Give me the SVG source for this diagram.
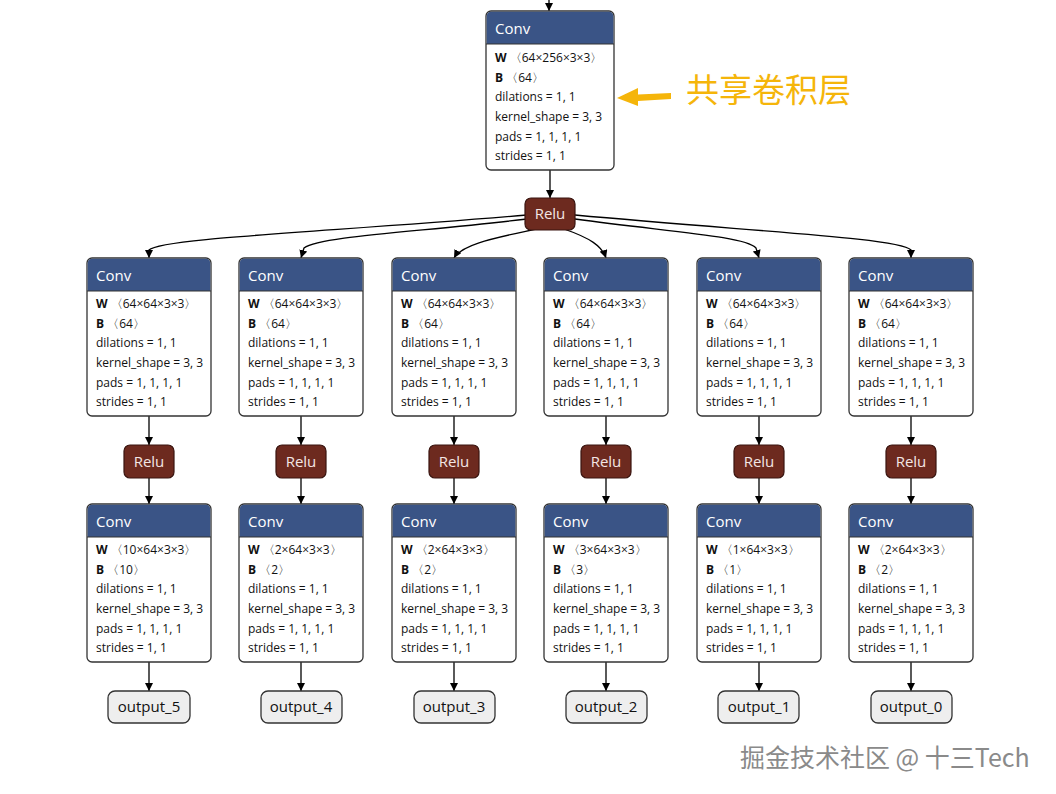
<svg xmlns="http://www.w3.org/2000/svg" width="1056" height="794" viewBox="0 0 1056 794">
<defs>
<marker id="ah" viewBox="0 0 10 10" refX="10" refY="5" markerWidth="8" markerHeight="8" markerUnits="userSpaceOnUse" orient="auto">
<path d="M0,0 L10,5 L0,10 z" fill="#000"/>
</marker>
<style>
.box{fill:#fff;stroke:#333;stroke-width:1.3}
.hdr{fill:#3a5486}
.relu{fill:#6d2a1f;stroke:#3a1510;stroke-width:1.2}
.out{fill:#eeeeee;stroke:#333;stroke-width:1.3}
.ht{font-family:"Open Sans","Noto Sans",sans-serif;font-size:15px;fill:#fff}
.bt{font-family:"Open Sans","Noto Sans",sans-serif;font-size:12px;fill:#111}
.b{font-weight:bold}
.rt{font-family:"Open Sans","Noto Sans",sans-serif;font-size:15px;fill:#f3e6e4;text-anchor:middle}
.ot{font-family:"Open Sans","Noto Sans",sans-serif;font-size:15px;fill:#111;text-anchor:middle}
.e{fill:none;stroke:#000;stroke-width:1.3;marker-end:url(#ah)}
</style>
</defs>
<rect width="1056" height="794" fill="#fff"/>

<g id="edges">
<path class="e" d="M549,0 L549,11"/>
<path class="e" d="M550,170 L550,198"/>
<path class="e" d="M527,215 C330,232 160,238 149,250 L149,258"/>
<path class="e" d="M527,219 C420,232 320,236 304,248 L301,258"/>
<path class="e" d="M536,229 C495,238 462,244 454,258"/>
<path class="e" d="M564,229 C590,238 602,246 606,258"/>
<path class="e" d="M575,219 C670,232 745,236 756,248 L759,258"/>
<path class="e" d="M575,215 C760,232 900,238 911,250 L911,258"/>
<path class="e" d="M149,416 L149,445"/><path class="e" d="M149,478 L149,504"/><path class="e" d="M149,662 L149,691"/>
<path class="e" d="M301,416 L301,445"/><path class="e" d="M301,478 L301,504"/><path class="e" d="M301,662 L301,691"/>
<path class="e" d="M454,416 L454,445"/><path class="e" d="M454,478 L454,504"/><path class="e" d="M454,662 L454,691"/>
<path class="e" d="M606,416 L606,445"/><path class="e" d="M606,478 L606,504"/><path class="e" d="M606,662 L606,691"/>
<path class="e" d="M759,416 L759,445"/><path class="e" d="M759,478 L759,504"/><path class="e" d="M759,662 L759,691"/>
<path class="e" d="M911,416 L911,445"/><path class="e" d="M911,478 L911,504"/><path class="e" d="M911,662 L911,691"/>
</g>

<g id="conv_shared">
<rect class="box" x="486" y="11" width="128" height="159" rx="5"/>
<path class="hdr" d="M491,11.7 H609 A4.3,4.3 0 0 1 613.3,16 V44 H486.7 V16 A4.3,4.3 0 0 1 491,11.7 z"/>
<line x1="486" y1="44" x2="614" y2="44" stroke="#333" stroke-width="1"/>
<text class="ht" x="495" y="34">Conv</text>
<text class="bt" x="495" y="62"><tspan class="b">W</tspan> 〈64×256×3×3〉</text>
<text class="bt" x="495" y="82"><tspan class="b">B</tspan> 〈64〉</text>
<text class="bt" x="495" y="101">dilations = 1, 1</text>
<text class="bt" x="495" y="121">kernel_shape = 3, 3</text>
<text class="bt" x="495" y="141">pads = 1, 1, 1, 1</text>
<text class="bt" x="495" y="160">strides = 1, 1</text>
</g>

<g id="relu_shared">
<rect class="relu" x="525" y="198" width="50" height="32" rx="6"/>
<text class="rt" x="550" y="219">Relu</text>
</g>

<g id="annotation">
<path d="M671,93 L638,94.5 L638,88 L617,98 L638,106 L638,101 L671,99 z" fill="#f5b50a"/>
<text x="686" y="102" font-family="'Noto Sans CJK SC',sans-serif" font-size="33" fill="#f5b50a">共享卷积层</text>
</g>

<g id="conv_a_5">
<rect class="box" x="87" y="258" width="124" height="158" rx="5"/>
<path class="hdr" d="M92,258.7 H206 A4.3,4.3 0 0 1 210.3,263 V291 H87.7 V263 A4.3,4.3 0 0 1 92,258.7 z"/>
<line x1="87" y1="291" x2="211" y2="291" stroke="#333" stroke-width="1"/>
<text class="ht" x="96" y="281">Conv</text>
<text class="bt" x="96" y="308"><tspan class="b">W</tspan> 〈64×64×3×3〉</text>
<text class="bt" x="96" y="328"><tspan class="b">B</tspan> 〈64〉</text>
<text class="bt" x="96" y="347">dilations = 1, 1</text>
<text class="bt" x="96" y="367">kernel_shape = 3, 3</text>
<text class="bt" x="96" y="387">pads = 1, 1, 1, 1</text>
<text class="bt" x="96" y="406">strides = 1, 1</text>
</g>
<g id="conv_a_4">
<rect class="box" x="239" y="258" width="124" height="158" rx="5"/>
<path class="hdr" d="M244,258.7 H358 A4.3,4.3 0 0 1 362.3,263 V291 H239.7 V263 A4.3,4.3 0 0 1 244,258.7 z"/>
<line x1="239" y1="291" x2="363" y2="291" stroke="#333" stroke-width="1"/>
<text class="ht" x="248" y="281">Conv</text>
<text class="bt" x="248" y="308"><tspan class="b">W</tspan> 〈64×64×3×3〉</text>
<text class="bt" x="248" y="328"><tspan class="b">B</tspan> 〈64〉</text>
<text class="bt" x="248" y="347">dilations = 1, 1</text>
<text class="bt" x="248" y="367">kernel_shape = 3, 3</text>
<text class="bt" x="248" y="387">pads = 1, 1, 1, 1</text>
<text class="bt" x="248" y="406">strides = 1, 1</text>
</g>
<g id="conv_a_3">
<rect class="box" x="392" y="258" width="124" height="158" rx="5"/>
<path class="hdr" d="M397,258.7 H511 A4.3,4.3 0 0 1 515.3,263 V291 H392.7 V263 A4.3,4.3 0 0 1 397,258.7 z"/>
<line x1="392" y1="291" x2="516" y2="291" stroke="#333" stroke-width="1"/>
<text class="ht" x="401" y="281">Conv</text>
<text class="bt" x="401" y="308"><tspan class="b">W</tspan> 〈64×64×3×3〉</text>
<text class="bt" x="401" y="328"><tspan class="b">B</tspan> 〈64〉</text>
<text class="bt" x="401" y="347">dilations = 1, 1</text>
<text class="bt" x="401" y="367">kernel_shape = 3, 3</text>
<text class="bt" x="401" y="387">pads = 1, 1, 1, 1</text>
<text class="bt" x="401" y="406">strides = 1, 1</text>
</g>
<g id="conv_a_2">
<rect class="box" x="544" y="258" width="124" height="158" rx="5"/>
<path class="hdr" d="M549,258.7 H663 A4.3,4.3 0 0 1 667.3,263 V291 H544.7 V263 A4.3,4.3 0 0 1 549,258.7 z"/>
<line x1="544" y1="291" x2="668" y2="291" stroke="#333" stroke-width="1"/>
<text class="ht" x="553" y="281">Conv</text>
<text class="bt" x="553" y="308"><tspan class="b">W</tspan> 〈64×64×3×3〉</text>
<text class="bt" x="553" y="328"><tspan class="b">B</tspan> 〈64〉</text>
<text class="bt" x="553" y="347">dilations = 1, 1</text>
<text class="bt" x="553" y="367">kernel_shape = 3, 3</text>
<text class="bt" x="553" y="387">pads = 1, 1, 1, 1</text>
<text class="bt" x="553" y="406">strides = 1, 1</text>
</g>
<g id="conv_a_1">
<rect class="box" x="697" y="258" width="124" height="158" rx="5"/>
<path class="hdr" d="M702,258.7 H816 A4.3,4.3 0 0 1 820.3,263 V291 H697.7 V263 A4.3,4.3 0 0 1 702,258.7 z"/>
<line x1="697" y1="291" x2="821" y2="291" stroke="#333" stroke-width="1"/>
<text class="ht" x="706" y="281">Conv</text>
<text class="bt" x="706" y="308"><tspan class="b">W</tspan> 〈64×64×3×3〉</text>
<text class="bt" x="706" y="328"><tspan class="b">B</tspan> 〈64〉</text>
<text class="bt" x="706" y="347">dilations = 1, 1</text>
<text class="bt" x="706" y="367">kernel_shape = 3, 3</text>
<text class="bt" x="706" y="387">pads = 1, 1, 1, 1</text>
<text class="bt" x="706" y="406">strides = 1, 1</text>
</g>
<g id="conv_a_0">
<rect class="box" x="849" y="258" width="124" height="158" rx="5"/>
<path class="hdr" d="M854,258.7 H968 A4.3,4.3 0 0 1 972.3,263 V291 H849.7 V263 A4.3,4.3 0 0 1 854,258.7 z"/>
<line x1="849" y1="291" x2="973" y2="291" stroke="#333" stroke-width="1"/>
<text class="ht" x="858" y="281">Conv</text>
<text class="bt" x="858" y="308"><tspan class="b">W</tspan> 〈64×64×3×3〉</text>
<text class="bt" x="858" y="328"><tspan class="b">B</tspan> 〈64〉</text>
<text class="bt" x="858" y="347">dilations = 1, 1</text>
<text class="bt" x="858" y="367">kernel_shape = 3, 3</text>
<text class="bt" x="858" y="387">pads = 1, 1, 1, 1</text>
<text class="bt" x="858" y="406">strides = 1, 1</text>
</g>

<g id="relu_5"><rect class="relu" x="124" y="445" width="50" height="33" rx="6"/><text class="rt" x="149" y="467">Relu</text></g>
<g id="relu_4"><rect class="relu" x="276" y="445" width="50" height="33" rx="6"/><text class="rt" x="301" y="467">Relu</text></g>
<g id="relu_3"><rect class="relu" x="429" y="445" width="50" height="33" rx="6"/><text class="rt" x="454" y="467">Relu</text></g>
<g id="relu_2"><rect class="relu" x="581" y="445" width="50" height="33" rx="6"/><text class="rt" x="606" y="467">Relu</text></g>
<g id="relu_1"><rect class="relu" x="734" y="445" width="50" height="33" rx="6"/><text class="rt" x="759" y="467">Relu</text></g>
<g id="relu_0"><rect class="relu" x="886" y="445" width="50" height="33" rx="6"/><text class="rt" x="911" y="467">Relu</text></g>

<g id="conv_b_5">
<rect class="box" x="87" y="504" width="124" height="158" rx="5"/>
<path class="hdr" d="M92,504.7 H206 A4.3,4.3 0 0 1 210.3,509 V537 H87.7 V509 A4.3,4.3 0 0 1 92,504.7 z"/>
<line x1="87" y1="537" x2="211" y2="537" stroke="#333" stroke-width="1"/>
<text class="ht" x="96" y="527">Conv</text>
<text class="bt" x="96" y="554"><tspan class="b">W</tspan> 〈10×64×3×3〉</text>
<text class="bt" x="96" y="574"><tspan class="b">B</tspan> 〈10〉</text>
<text class="bt" x="96" y="593">dilations = 1, 1</text>
<text class="bt" x="96" y="613">kernel_shape = 3, 3</text>
<text class="bt" x="96" y="633">pads = 1, 1, 1, 1</text>
<text class="bt" x="96" y="652">strides = 1, 1</text>
</g>
<g id="conv_b_4">
<rect class="box" x="239" y="504" width="124" height="158" rx="5"/>
<path class="hdr" d="M244,504.7 H358 A4.3,4.3 0 0 1 362.3,509 V537 H239.7 V509 A4.3,4.3 0 0 1 244,504.7 z"/>
<line x1="239" y1="537" x2="363" y2="537" stroke="#333" stroke-width="1"/>
<text class="ht" x="248" y="527">Conv</text>
<text class="bt" x="248" y="554"><tspan class="b">W</tspan> 〈2×64×3×3〉</text>
<text class="bt" x="248" y="574"><tspan class="b">B</tspan> 〈2〉</text>
<text class="bt" x="248" y="593">dilations = 1, 1</text>
<text class="bt" x="248" y="613">kernel_shape = 3, 3</text>
<text class="bt" x="248" y="633">pads = 1, 1, 1, 1</text>
<text class="bt" x="248" y="652">strides = 1, 1</text>
</g>
<g id="conv_b_3">
<rect class="box" x="392" y="504" width="124" height="158" rx="5"/>
<path class="hdr" d="M397,504.7 H511 A4.3,4.3 0 0 1 515.3,509 V537 H392.7 V509 A4.3,4.3 0 0 1 397,504.7 z"/>
<line x1="392" y1="537" x2="516" y2="537" stroke="#333" stroke-width="1"/>
<text class="ht" x="401" y="527">Conv</text>
<text class="bt" x="401" y="554"><tspan class="b">W</tspan> 〈2×64×3×3〉</text>
<text class="bt" x="401" y="574"><tspan class="b">B</tspan> 〈2〉</text>
<text class="bt" x="401" y="593">dilations = 1, 1</text>
<text class="bt" x="401" y="613">kernel_shape = 3, 3</text>
<text class="bt" x="401" y="633">pads = 1, 1, 1, 1</text>
<text class="bt" x="401" y="652">strides = 1, 1</text>
</g>
<g id="conv_b_2">
<rect class="box" x="544" y="504" width="124" height="158" rx="5"/>
<path class="hdr" d="M549,504.7 H663 A4.3,4.3 0 0 1 667.3,509 V537 H544.7 V509 A4.3,4.3 0 0 1 549,504.7 z"/>
<line x1="544" y1="537" x2="668" y2="537" stroke="#333" stroke-width="1"/>
<text class="ht" x="553" y="527">Conv</text>
<text class="bt" x="553" y="554"><tspan class="b">W</tspan> 〈3×64×3×3〉</text>
<text class="bt" x="553" y="574"><tspan class="b">B</tspan> 〈3〉</text>
<text class="bt" x="553" y="593">dilations = 1, 1</text>
<text class="bt" x="553" y="613">kernel_shape = 3, 3</text>
<text class="bt" x="553" y="633">pads = 1, 1, 1, 1</text>
<text class="bt" x="553" y="652">strides = 1, 1</text>
</g>
<g id="conv_b_1">
<rect class="box" x="697" y="504" width="124" height="158" rx="5"/>
<path class="hdr" d="M702,504.7 H816 A4.3,4.3 0 0 1 820.3,509 V537 H697.7 V509 A4.3,4.3 0 0 1 702,504.7 z"/>
<line x1="697" y1="537" x2="821" y2="537" stroke="#333" stroke-width="1"/>
<text class="ht" x="706" y="527">Conv</text>
<text class="bt" x="706" y="554"><tspan class="b">W</tspan> 〈1×64×3×3〉</text>
<text class="bt" x="706" y="574"><tspan class="b">B</tspan> 〈1〉</text>
<text class="bt" x="706" y="593">dilations = 1, 1</text>
<text class="bt" x="706" y="613">kernel_shape = 3, 3</text>
<text class="bt" x="706" y="633">pads = 1, 1, 1, 1</text>
<text class="bt" x="706" y="652">strides = 1, 1</text>
</g>
<g id="conv_b_0">
<rect class="box" x="849" y="504" width="124" height="158" rx="5"/>
<path class="hdr" d="M854,504.7 H968 A4.3,4.3 0 0 1 972.3,509 V537 H849.7 V509 A4.3,4.3 0 0 1 854,504.7 z"/>
<line x1="849" y1="537" x2="973" y2="537" stroke="#333" stroke-width="1"/>
<text class="ht" x="858" y="527">Conv</text>
<text class="bt" x="858" y="554"><tspan class="b">W</tspan> 〈2×64×3×3〉</text>
<text class="bt" x="858" y="574"><tspan class="b">B</tspan> 〈2〉</text>
<text class="bt" x="858" y="593">dilations = 1, 1</text>
<text class="bt" x="858" y="613">kernel_shape = 3, 3</text>
<text class="bt" x="858" y="633">pads = 1, 1, 1, 1</text>
<text class="bt" x="858" y="652">strides = 1, 1</text>
</g>

<g id="output_5"><rect class="out" x="108" y="691" width="82" height="32" rx="7"/><text class="ot" x="149" y="712">output_5</text></g>
<g id="output_4"><rect class="out" x="261" y="691" width="81" height="32" rx="7"/><text class="ot" x="301" y="712">output_4</text></g>
<g id="output_3"><rect class="out" x="414" y="691" width="81" height="32" rx="7"/><text class="ot" x="454" y="712">output_3</text></g>
<g id="output_2"><rect class="out" x="566" y="691" width="81" height="32" rx="7"/><text class="ot" x="606" y="712">output_2</text></g>
<g id="output_1"><rect class="out" x="718" y="691" width="81" height="32" rx="7"/><text class="ot" x="759" y="712">output_1</text></g>
<g id="output_0"><rect class="out" x="871" y="691" width="81" height="32" rx="7"/><text class="ot" x="911" y="712">output_0</text></g>

<g id="watermark">
<text x="740" y="767" font-family="'Noto Sans CJK SC',sans-serif" font-size="25" fill="#fff" stroke="#fff" stroke-width="3">掘金技术社区 @ 十三Tech</text>
<text x="740" y="767" font-family="'Noto Sans CJK SC',sans-serif" font-size="25" fill="#8a8a8a">掘金技术社区 @ 十三Tech</text>
</g>
</svg>
